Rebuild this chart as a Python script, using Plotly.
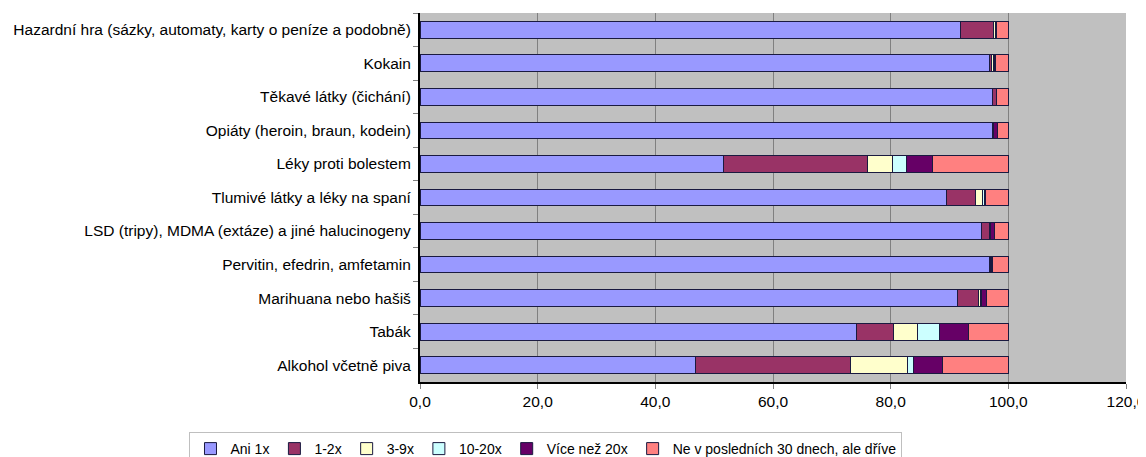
import plotly.graph_objects as go

categories = [
    "Hazardní hra (sázky, automaty, karty o peníze a podobně)",
    "Kokain",
    "Těkavé látky (čichání)",
    "Opiáty (heroin, braun, kodein)",
    "Léky proti bolestem",
    "Tlumivé látky a léky na spaní",
    "LSD (tripy), MDMA (extáze) a jiné halucinogeny",
    "Pervitin, efedrin, amfetamin",
    "Marihuana nebo hašiš",
    "Tabák",
    "Alkohol včetně piva",
]

ani_1x      = [91.8, 96.8, 97.3, 97.3, 51.6, 89.5, 95.5, 96.8, 91.4, 74.2, 46.8]
x_1_2       = [5.6,  0.3,  0.7,  0.1,  24.5, 4.9,  1.3,  0.1,  3.5,  6.2,  26.3]
x_3_9       = [0.4,  0.3,  0.0,  0.0,  4.2,  1.2,  0.1,  0.3,  0.3,  4.2,  9.7]
x_10_20     = [0.1,  0.2,  0.0,  0.0,  2.4,  0.4,  0.1,  0.1,  0.3,  3.7,  1.1]
vice_nez_20 = [0.1,  0.3,  0.0,  0.7,  4.4,  0.1,  0.6,  0.0,  0.8,  5.0,  4.9]
drive       = [2.0,  2.1,  2.0,  1.9,  12.9, 3.9,  2.4,  2.7,  3.7,  6.7,  11.2]

series_names = ["Ani 1x", "1-2x", "3-9x", "10-20x", "Více než 20x",
                "Ne v posledních 30 dnech, ale dříve"]
series_values = [ani_1x, x_1_2, x_3_9, x_10_20, vice_nez_20, drive]
colors = ["#9999FF", "#993366", "#FFFFCC", "#CCFFFF", "#660066", "#FF8080"]

x_ticks = [0, 20, 40, 60, 80, 100, 120]

fig = go.Figure()
for name, vals, col in zip(series_names, series_values, colors):
    fig.add_trace(go.Bar(
        y=categories, x=vals, name=name, orientation="h",
        marker=dict(color=col, line=dict(color="#1a1a40", width=1)),
    ))

# The page body adds an 8px margin; the figure is sized to fill the rest.
font = "Liberation Sans, Arial, sans-serif"
fig.update_layout(
    barmode="stack",
    bargap=0.5,
    width=1138, height=449,
    margin=dict(l=412, r=20, t=5, b=75, autoexpand=False),
    paper_bgcolor="white",
    plot_bgcolor="#C0C0C0",
    font=dict(family=font, size=15.5, color="black"),
    separators=", ",
    showlegend=True,
    legend=dict(
        orientation="h", x=-0.3265, xanchor="left", y=-0.1355, yanchor="top",
        bordercolor="#bfbfbf", borderwidth=1, bgcolor="white",
        font=dict(size=14), traceorder="normal", itemwidth=30,
    ),
    xaxis=dict(
        range=[0, 120], tickvals=x_ticks, tickformat=".1f",
        showgrid=True, gridcolor="#808080", gridwidth=1,
        showline=True, linecolor="black", linewidth=1.5,
        ticks="outside", ticklen=5, tickcolor="#808080",
        zeroline=False, fixedrange=True, automargin=False,
    ),
    yaxis=dict(
        autorange="reversed", showline=True, linecolor="black", linewidth=1.5,
        ticks="outside", tickson="boundaries", ticklen=5, tickcolor="#808080",
        showgrid=False, ticksuffix=" ", automargin=False,
    ),
)

fig.write_html("out.html")
